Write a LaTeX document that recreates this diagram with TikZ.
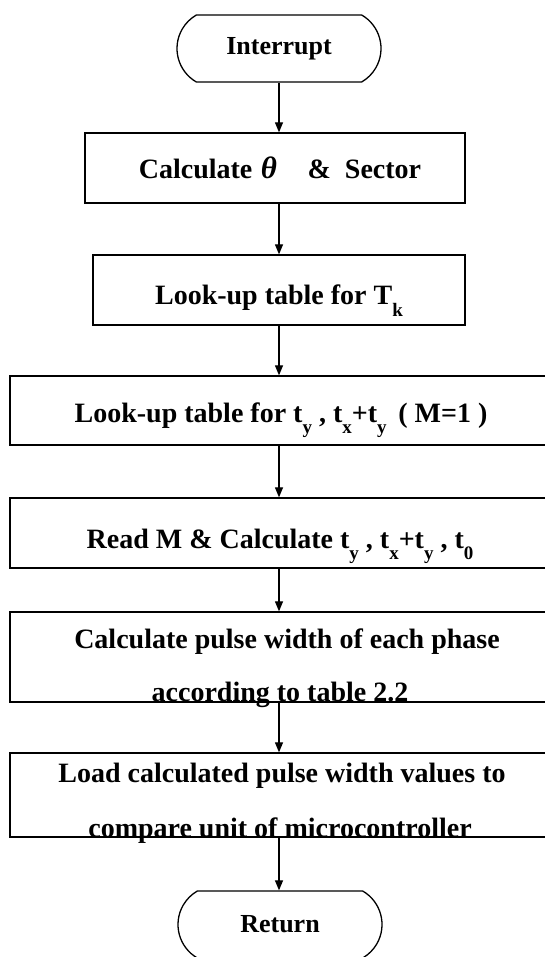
\documentclass[tikz,border=0pt]{standalone}
\usepackage{fontspec}
\setmainfont{Liberation Serif}
\usetikzlibrary{arrows.meta,shapes.misc}
\newcommand\lsub[1]{\raisebox{-0.42em}{\fontsize{19}{19}\selectfont #1}}
\begin{document}
\begin{tikzpicture}[x=1pt,y=-1pt,
 box/.style={draw, line width=1.3pt, rectangle, inner sep=0pt},
 term/.style={draw, line width=1.3pt, rounded rectangle, rounded rectangle arc length=120, minimum width=204pt, minimum height=67pt, inner sep=0pt, font=\fontsize{26}{26}\selectfont\bfseries},
 txt/.style={inner sep=0pt, anchor=base, font=\fontsize{28}{28}\selectfont\bfseries},
 flow/.style={line width=1.2pt, -{Triangle[length=10pt,width=8pt]}}]
\useasboundingbox (0,0) rectangle (545,957);
\clip (0,0) rectangle (545,957);
\coordinate (ax) at (279,0);
% terminals
\node[term] (int) at (279,48.5) {Interrupt};
\node[term] (ret) at (280,924.5) {Return};
% boxes
\node[box, minimum width=380pt, minimum height=70pt] (calc) at (275,168) {};
\node[box, minimum width=372pt, minimum height=70pt] (tk) at (279,290) {};
\node[box, minimum width=570pt, minimum height=69pt] (ty) at (295,410.5) {};
\node[box, minimum width=570pt, minimum height=70pt] (rm) at (295,533) {};
\node[box, minimum width=570pt, minimum height=90pt] (pw) at (295,657) {};
\node[box, minimum width=570pt, minimum height=84pt] (ld) at (295,795) {};
% texts
\node[txt] (calct) at (280,179) {Calculate\hspace{0.3em}{\itshape\fontsize{31}{31}\selectfont θ}\hspace{1.1em}\&\hspace{0.5em}Sector};
\node[txt] (tkt) at (279,305) {Look-up table for T\lsub{k}};
\node[txt] (tyt) at (281,422) {Look-up table for t\lsub{y} , t\lsub{x}+t\lsub{y} \,( M=1 )};
\node[txt] (rmt) at (280,548) {Read M \& Calculate t\lsub{y} , t\lsub{x}+t\lsub{y} , t\lsub{0}};
\node[txt] (pwa) at (287,648) {Calculate pulse width of each phase};
\node[txt] (pwb) at (280,701) {according to table 2.2};
\node[txt] (lda) at (282,782) {Load calculated pulse width values to};
\node[txt] (ldb) at (280,837) {compare unit of microcontroller};
% connectors
\draw[flow] (int.south) -- (calc.north -| ax);
\draw[flow] (calc.south -| ax) -- (tk.north -| ax);
\draw[flow] (tk.south -| ax) -- (ty.north -| ax);
\draw[flow] (ty.south -| ax) -- (rm.north -| ax);
\draw[flow] (rm.south -| ax) -- (pw.north -| ax);
\draw[flow] (pw.south -| ax) -- (ld.north -| ax);
\draw[flow] (ld.south -| ax) -- (ret.north -| ax);
\end{tikzpicture}
\end{document}
